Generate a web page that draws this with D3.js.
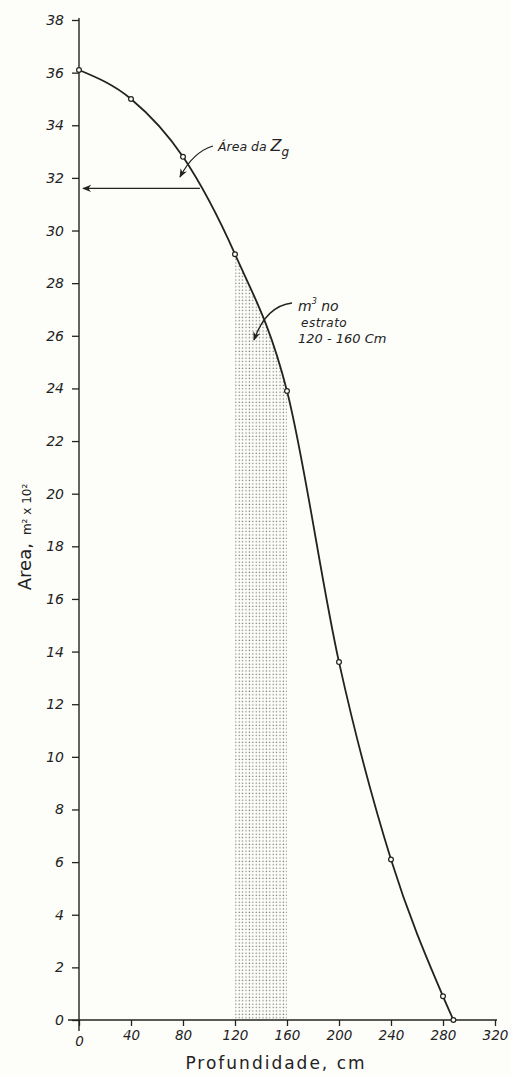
<!DOCTYPE html>
<html>
<head>
<meta charset="utf-8">
<script src="https://cdn.jsdelivr.net/npm/d3@7"></script>
<style>
  body { margin: 0; background: #fdfdfa; }
  svg { display: block; }
  text { fill: #222; font-family: "DejaVu Sans", sans-serif; font-style: italic; }
</style>
</head>
<body>
<div id="chart"></div>
<script>
// depth (cm) vs area (m2 x 10^2)
var depth = [0, 40, 80, 120, 160, 200, 240, 280, 288];
var area  = [36.1, 35.0, 32.8, 29.1, 23.9, 13.6, 6.1, 0.9, 0];
var xTicks = [0, 40, 80, 120, 160, 200, 240, 280, 320];
var yTicks = [0, 2, 4, 6, 8, 10, 12, 14, 16, 18, 20, 22, 24, 26, 28, 30, 32, 34, 36, 38];
var stratum = [120, 160];     // shaded layer
var zgArea = 31.6;            // area read at Zg

(function() {
    var W = 511, H = 1076;
    var x = d3.scaleLinear().domain([0, 320]).range([79, 495]);
    var y = d3.scaleLinear().domain([0, 38]).range([1020, 20]);
    var ink = '#222';

    var svg = d3.select('#chart').append('svg')
        .attr('width', W).attr('height', H);

    var defs = svg.append('defs');

    // stipple for the stratum volume
    var pat = defs.append('pattern')
        .attr('id', 'dots')
        .attr('patternUnits', 'userSpaceOnUse')
        .attr('width', 3.4).attr('height', 3.4);
    pat.append('circle').attr('cx', 1.2).attr('cy', 1.2).attr('r', 0.7).attr('fill', '#777');

    defs.append('marker')
        .attr('id', 'head')
        .attr('viewBox', '0 0 10 10')
        .attr('refX', 9).attr('refY', 5)
        .attr('markerWidth', 9).attr('markerHeight', 9)
        .attr('markerUnits', 'userSpaceOnUse')
        .attr('orient', 'auto')
        .append('path')
        .attr('d', 'M0,1 L10,5 L0,9 L3,5 Z')
        .attr('fill', ink);

    var pts = depth.map(function(d, i) { return [d, area[i]]; });
    var curve = d3.curveMonotoneX;

    // clip = region under the whole curve
    defs.append('clipPath').attr('id', 'under')
        .append('path')
        .attr('d', d3.area()
            .x(function(d) { return x(d[0]); })
            .y0(y(0))
            .y1(function(d) { return y(d[1]); })
            .curve(curve)(pts));

    svg.append('rect')
        .attr('x', x(stratum[0]))
        .attr('width', x(stratum[1]) - x(stratum[0]))
        .attr('y', y(38))
        .attr('height', y(0) - y(38))
        .attr('fill', 'url(#dots)')
        .attr('clip-path', 'url(#under)');

    // axes
    svg.append('line')
        .attr('x1', x(0)).attr('x2', x(0))
        .attr('y1', y(38) - 2).attr('y2', y(0) + 11)
        .attr('stroke', ink).attr('stroke-width', 1.4);
    svg.append('line')
        .attr('x1', x(0) - 11).attr('x2', x(320) + 2)
        .attr('y1', y(0)).attr('y2', y(0))
        .attr('stroke', ink).attr('stroke-width', 1.4);

    var yAxis = svg.append('g')
        .attr('transform', 'translate(' + x(0) + ',0)')
        .call(d3.axisLeft(y).tickValues(yTicks).tickSize(7).tickPadding(8));
    yAxis.select('.domain').remove();
    yAxis.selectAll('.tick line').attr('stroke', ink).attr('stroke-width', 1.3);
    yAxis.selectAll('.tick text')
        .attr('fill', ink)
        .style('font-size', '14px')
        .style('font-family', '"DejaVu Sans", sans-serif')
        .style('font-style', 'italic');

    var xAxis = svg.append('g')
        .attr('transform', 'translate(0,' + y(0) + ')')
        .call(d3.axisBottom(x).tickValues(xTicks).tickSize(6).tickPadding(4));
    xAxis.select('.domain').remove();
    xAxis.selectAll('.tick line').attr('stroke', ink).attr('stroke-width', 1.3);
    xAxis.selectAll('.tick text')
        .attr('fill', ink)
        .style('font-size', '13.5px')
        .style('font-family', '"DejaVu Sans", sans-serif')
        .style('font-style', 'italic');
    xAxis.selectAll('.tick').filter(function(d) { return d === 0; })
        .select('text').attr('dy', '1.2em');

    // curve + points
    svg.append('path')
        .datum(pts)
        .attr('d', d3.line()
            .x(function(d) { return x(d[0]); })
            .y(function(d) { return y(d[1]); })
            .curve(curve))
        .attr('fill', 'none')
        .attr('stroke', ink)
        .attr('stroke-width', 1.8);

    svg.selectAll('.pt').data(pts).enter().append('circle')
        .attr('class', 'pt')
        .attr('cx', function(d) { return x(d[0]); })
        .attr('cy', function(d) { return y(d[1]); })
        .attr('r', 2.4)
        .attr('fill', '#fdfdfa')
        .attr('stroke', ink)
        .attr('stroke-width', 1.2);

    // horizontal read-off arrow at Zg
    svg.append('line')
        .attr('x1', x(93)).attr('x2', x(0) + 4)
        .attr('y1', y(zgArea)).attr('y2', y(zgArea))
        .attr('stroke', ink).attr('stroke-width', 1.3)
        .attr('marker-end', 'url(#head)');

    // annotation 1
    svg.append('path')
        .attr('d', 'M213,146 Q193,152 180,177')
        .attr('fill', 'none').attr('stroke', ink).attr('stroke-width', 1.3)
        .attr('marker-end', 'url(#head)');
    var t1 = svg.append('text').attr('x', 218).attr('y', 151).style('font-size', '12.5px');
    t1.append('tspan').text('Área da ');
    t1.append('tspan').style('font-size', '16px').text('Z');
    t1.append('tspan').attr('dy', 5).style('font-size', '12px').text('g');

    // annotation 2
    svg.append('path')
        .attr('d', 'M292,303 Q266,306 254,340')
        .attr('fill', 'none').attr('stroke', ink).attr('stroke-width', 1.3)
        .attr('marker-end', 'url(#head)');
    var t2 = svg.append('text').attr('x', 298).attr('y', 311).style('font-size', '14px');
    t2.append('tspan').text('m');
    t2.append('tspan').attr('dy', -7).style('font-size', '8px').text('3');
    t2.append('tspan').attr('dy', 7).text('  no');
    svg.append('text').attr('x', 301).attr('y', 327).style('font-size', '12px')
        .attr('letter-spacing', 0.5).text('estrato');
    svg.append('text').attr('x', 298).attr('y', 343).style('font-size', '13px')
        .text('120 - 160 Cm');

    // axis titles
    svg.append('text')
        .attr('x', 276).attr('y', 1069)
        .attr('text-anchor', 'middle')
        .style('font-size', '17px')
        .style('font-style', 'normal')
        .attr('letter-spacing', 2)
        .text('Profundidade, cm');

    var yt = svg.append('text')
        .attr('transform', 'translate(31,537) rotate(-90)')
        .attr('text-anchor', 'middle')
        .style('font-style', 'normal');
    yt.append('tspan').style('font-size', '18px').text('Area,');
    yt.append('tspan').style('font-size', '12px').attr('dx', 8).text('m² x 10²');
})();
</script>
</body>
</html>
